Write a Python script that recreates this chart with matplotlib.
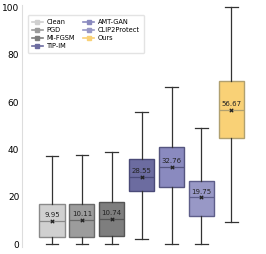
import numpy as np
import matplotlib
matplotlib.use("Agg")
import matplotlib.pyplot as plt
from matplotlib.lines import Line2D

methods = ["Clean", "PGD", "MI-FGSM", "TIP-IM", "AMT-GAN", "CLIP2Protect", "Ours"]
whislo = [0.0, 0.0, 0.0, 2.2, 0.0, 0.0, 9.3]
q1 = [3.0, 3.0, 3.6, 22.6, 24.1, 11.9, 44.7]
med = [10.0, 10.1, 10.7, 28.5, 32.7, 19.8, 56.7]
q3 = [16.9, 16.9, 18.0, 35.9, 40.9, 26.8, 69.0]
whishi = [37.3, 37.7, 39.1, 55.7, 66.5, 49.2, 100.0]
means = [9.95, 10.11, 10.74, 28.55, 32.76, 19.75, 56.67]

colors = ["#d0d0d0", "#9c9c9c", "#7e7e7e", "#6c6ca0", "#8a8abf", "#9898c6", "#f9d176"]
edges = ["#8a8a8a", "#6a6a6a", "#555555", "#4a4a78", "#55557f", "#5e5e8a", "#b0a070"]

fig, ax = plt.subplots(figsize=(2.66, 2.54), dpi=100)
fig.subplots_adjust(left=0.083, right=0.982, top=0.981, bottom=0.029)

stats = []
for i in range(len(methods)):
    stats.append(dict(whislo=whislo[i], q1=q1[i], med=med[i], q3=q3[i],
                      whishi=whishi[i], mean=means[i], fliers=[]))
pos = np.arange(1, len(methods) + 1)
bp = ax.bxp(stats, positions=pos, widths=0.84, patch_artist=True, showmeans=False,
            whiskerprops=dict(color="#333333", lw=0.9),
            capprops=dict(color="#333333", lw=0.9),
            medianprops=dict(lw=0.9))
for i, b in enumerate(bp["boxes"]):
    b.set_facecolor(colors[i])
    b.set_edgecolor(edges[i])
    b.set_linewidth(1.0)
    bp["medians"][i].set_color(edges[i])

# mean markers + labels
ax.scatter(pos, means, marker="x", s=6, color="#222222", lw=0.9, zorder=5)
for p, m in zip(pos, means):
    ax.text(p, m + 1.2, f"{m:.2f}", ha="center", va="bottom", fontsize=5, color="#222222", zorder=6)

ax.set_xlim(0, 8)
ax.set_ylim(-1, 101)
ax.set_yticks([0, 20, 40, 60, 80, 100])
ax.set_xticks([])
ax.tick_params(axis="y", length=0, labelsize=6.5, pad=2)
for s in ["top", "right", "bottom"]:
    ax.spines[s].set_visible(False)
ax.spines["left"].set_color("#dddddd")
ax.spines["left"].set_linewidth(0.8)

handles = [Line2D([0], [0], color=colors[i], marker="s", markersize=2.5, lw=1.2) for i in range(len(methods))]
ax.legend(handles, methods, loc="upper left", ncol=2, fontsize=4.8, frameon=True,
          bbox_to_anchor=(0.025, 0.958), borderaxespad=0, handlelength=1.6,
          handletextpad=0.6, columnspacing=1.2, labelspacing=0.3,
          edgecolor="#dddddd", fancybox=True, borderpad=0.6)

fig.savefig("out.png", dpi=100)
